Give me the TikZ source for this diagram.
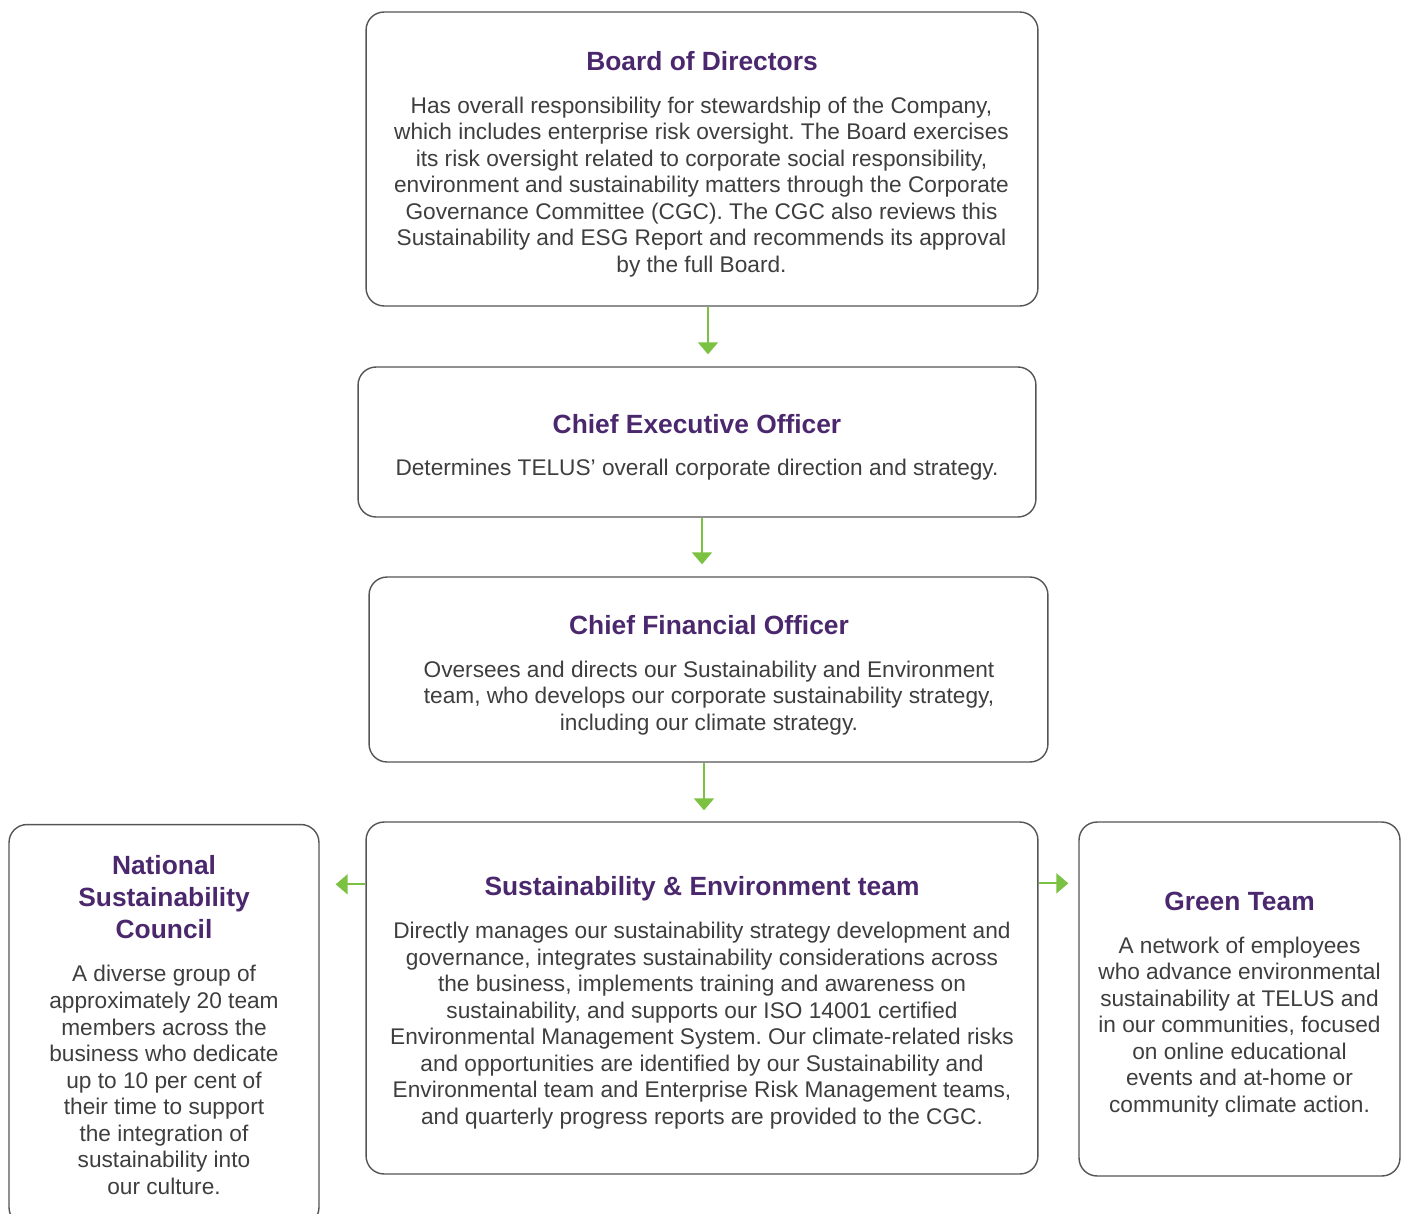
\documentclass[tikz,border=0pt]{standalone}
\usepackage{fontspec}
\setmainfont{Liberation Sans}
\usetikzlibrary{arrows.meta,positioning}
\definecolor{telpurple}{RGB}{75,40,109}
\definecolor{telgreen}{RGB}{124,194,66}
\definecolor{bodygrey}{RGB}{62,62,62}
\definecolor{edgegrey}{RGB}{85,85,85}
\frenchspacing
\begin{document}
\begin{tikzpicture}[x=0.02cm,y=-0.02cm,
    box/.style={draw=edgegrey,line width=0.8pt,rounded corners=0.36cm,inner sep=0pt},
    title/.style={text=telpurple,font=\fontsize{15}{18.1}\selectfont\bfseries,align=center,inner sep=0pt},
    body/.style={text=bodygrey,font=\fontsize{12.9}{15.1}\selectfont,align=center,inner sep=0pt},
    flow/.style={draw=telgreen,line width=1.1pt,-{Triangle[width=0.4cm,length=0.24cm]}}]
    % TELUS sustainability governance chart
    \useasboundingbox (0,0) rectangle (1407,1214);
    \clip (0,0) rectangle (1407,1214);

    \node[box,minimum width=13.44cm,minimum height=5.88cm] (board) at (702,159) {};
    \node[box,minimum width=13.56cm,minimum height=3.0cm] (ceo) at (697,442) {};
    \node[box,minimum width=13.58cm,minimum height=3.7cm] (cfo) at (708.5,669.5) {};
    \node[box,minimum width=13.44cm,minimum height=7.04cm] (team) at (702,998) {};
    \node[box,minimum width=6.2cm,minimum height=8.02cm] (council) at (164,1025) {};
    \node[box,minimum width=6.42cm,minimum height=7.08cm] (green) at (1239.5,999) {};

    \node[title] (boardT) at (702,61) {Board of Directors};
    \node[body] (boardB) at (701.5,187) {Has overall responsibility for stewardship of the Company,\\
        which includes enterprise risk oversight. The Board exercises\\
        its risk oversight related to corporate social responsibility,\\
        environment and sustainability matters through the Corporate\\
        Governance Committee (CGC). The CGC also reviews this\\
        Sustainability and ESG Report and recommends its approval\\
        by the full Board.};

    \node[title] (ceoT) at (697,424) {Chief Executive Officer};
    \node[body] (ceoB) at (697,470) {Determines TELUS’ overall corporate direction and strategy.};

    \node[title] (cfoT) at (709,625) {Chief Financial Officer};
    \node[body] (cfoB) at (709,698) {Oversees and directs our Sustainability and Environment\\
        team, who develops our corporate sustainability strategy,\\
        including our climate strategy.};

    \node[title] (teamT) at (702,889) {Sustainability \& Environment team};
    \node[body] (teamB) at (702,1025.5) {Directly manages our sustainability strategy development and\\
        governance, integrates sustainability considerations across\\
        the business, implements training and awareness on\\
        sustainability, and supports our ISO 14001 certified\\
        Environmental Management System. Our climate-related risks\\
        and opportunities are identified by our Sustainability and\\
        Environmental team and Enterprise Risk Management teams,\\
        and quarterly progress reports are provided to the CGC.};

    \node[title] (councilT) at (164,897) {National\\Sustainability\\Council};
    \node[body] (councilB) at (164,1080) {A diverse group of\\
        approximately 20 team\\
        members across the\\
        business who dedicate\\
        up to 10 per cent of\\
        their time to support\\
        the integration of\\
        sustainability into\\
        our culture.};

    \node[title] (greenT) at (1239.5,901) {Green Team};
    \node[body] (greenB) at (1239.5,1027) {A network of employees\\
        who advance environmental\\
        sustainability at TELUS and\\
        in our communities, focused\\
        on online educational\\
        events and at-home or\\
        community climate action.};

    \draw[flow,shorten >=0.24cm] ([xshift=0.12cm]board.south) -- ([xshift=0.12cm]board.south |- ceo.north);
    \draw[flow,shorten >=0.24cm] ([xshift=0.1cm]ceo.south) -- ([xshift=0.1cm]ceo.south |- cfo.north);
    \draw[flow,shorten >=0.22cm] ([xshift=-0.09cm]cfo.south) -- ([xshift=-0.09cm]cfo.south |- team.north);
    \draw[flow,shorten >=0.32cm] ([yshift=-1.26cm]team.north west) -- ([yshift=-1.26cm]team.north west -| council.east);
    \draw[flow,shorten >=0.2cm] ([yshift=-1.24cm]team.north east) -- ([yshift=-1.24cm]team.north east -| green.west);
\end{tikzpicture}
\end{document}
